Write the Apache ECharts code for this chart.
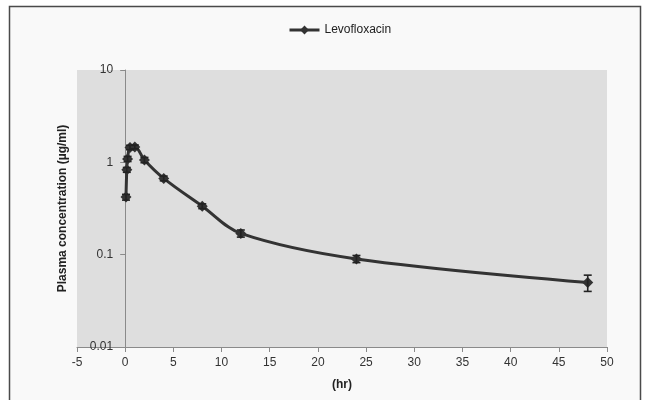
<!DOCTYPE html>
<html>
<head>
<meta charset="utf-8">
<script src="https://cdn.jsdelivr.net/npm/echarts@6/dist/echarts.min.js"></script>
<style>
  html, body { margin: 0; padding: 0; background: #ffffff; }
  #chart { width: 649px; height: 400px; }
</style>
</head>
<body>
<div id="chart"></div>
<script>
// Levofloxacin plasma concentration-time profile (mean ± SD)
const seriesName = 'Levofloxacin';
const timeHr = [0.083, 0.167, 0.25, 0.5, 1, 2, 4, 8, 12, 24, 48];
const concMean = [0.42, 0.83, 1.09, 1.45, 1.47, 1.06, 0.67, 0.335, 0.17, 0.09, 0.05];
const concSD = [0.03, 0.05, 0.07, 0.08, 0.07, 0.07, 0.04, 0.02, 0.015, 0.008, 0.01];
const xTicks = { min: -5, max: 50, interval: 5 };
const yTicks = { min: 0.01, max: 10 };

const FONT = '"Liberation Sans", "Open Sans", sans-serif';
const INK = '#333333';

const GRID = { left: 77, right: 42, top: 70, bottom: 53 };
const plotWidth = 649 - GRID.left - GRID.right;
// shift the y axis so it sits on x = 0
const yAxisShift = -plotWidth * (0 - xTicks.min) / (xTicks.max - xTicks.min);

const lineData = timeHr.map((t, i) => [t, concMean[i]]);
const errData = timeHr.map((t, i) => [t, concMean[i] - concSD[i], concMean[i] + concSD[i]]);

const chart = echarts.init(document.getElementById('chart'), null, { renderer: 'canvas' });

chart.setOption({
  backgroundColor: '#ffffff',
  animation: false,
  graphic: [{
    type: 'rect',
    z: -10,
    shape: { x: 9.5, y: 6.5, width: 631, height: 400 },
    style: { fill: '#f9f9f9', stroke: '#4a4a4a', lineWidth: 1.5 }
  }],
  legend: {
    top: 19,
    left: 283,
    itemWidth: 30,
    itemHeight: 11,
    lineStyle: { width: 3, color: '#333333' },
    textStyle: { fontFamily: FONT, fontSize: 12, color: '#222' },
    data: [seriesName]
  },
  grid: {
    left: GRID.left, right: GRID.right, top: GRID.top, bottom: GRID.bottom,
    show: true,
    backgroundColor: '#dedede',
    borderWidth: 0
  },
  xAxis: {
    type: 'value',
    min: xTicks.min,
    max: xTicks.max,
    interval: xTicks.interval,
    name: '(hr)',
    nameLocation: 'middle',
    nameGap: 32,
    nameTextStyle: { fontFamily: FONT, fontSize: 12, fontWeight: 'bold', color: '#222' },
    axisLine: { onZero: false, lineStyle: { color: '#8a8a8a', width: 1 } },
    axisTick: { show: true, inside: false, length: 5, lineStyle: { color: '#8a8a8a' } },
    axisLabel: { fontFamily: FONT, fontSize: 12, color: INK, margin: 10 },
    splitLine: { show: false }
  },
  yAxis: {
    type: 'log',
    logBase: 10,
    min: yTicks.min,
    max: yTicks.max,
    offset: yAxisShift,
    name: 'Plasma concentration (µg/ml)',
    nameLocation: 'middle',
    nameGap: 56,
    nameTextStyle: { fontFamily: FONT, fontSize: 12, fontWeight: 'bold', color: '#222' },
    axisLine: { show: true, onZero: false, lineStyle: { color: '#8a8a8a', width: 1 } },
    axisTick: { show: true, inside: false, length: 5, lineStyle: { color: '#8a8a8a' } },
    axisLabel: { fontFamily: FONT, fontSize: 12, color: INK, margin: 12,
      formatter: v => String(+v.toPrecision(3)) },
    splitLine: { show: false },
    minorTick: { show: false }
  },
  series: [
    {
      name: seriesName,
      type: 'line',
      data: lineData,
      smooth: 0.35,
      symbol: 'diamond',
      symbolSize: 11,
      showAllSymbol: true,
      lineStyle: { color: '#333333', width: 3 },
      itemStyle: { color: '#333333' },
      z: 3
    },
    {
      name: 'sd',
      type: 'custom',
      data: errData,
      z: 4,
      renderItem: function (params, api) {
        const x = api.value(0);
        const lo = api.coord([x, api.value(1)]);
        const hi = api.coord([x, api.value(2)]);
        const half = 4;
        const st = { stroke: '#222222', lineWidth: 1.6 };
        return {
          type: 'group',
          children: [
            { type: 'line', shape: { x1: lo[0], y1: lo[1], x2: hi[0], y2: hi[1] }, style: st },
            { type: 'line', shape: { x1: lo[0] - half, y1: lo[1], x2: lo[0] + half, y2: lo[1] }, style: st },
            { type: 'line', shape: { x1: hi[0] - half, y1: hi[1], x2: hi[0] + half, y2: hi[1] }, style: st }
          ]
        };
      }
    }
  ]
});
</script>
</body>
</html>
